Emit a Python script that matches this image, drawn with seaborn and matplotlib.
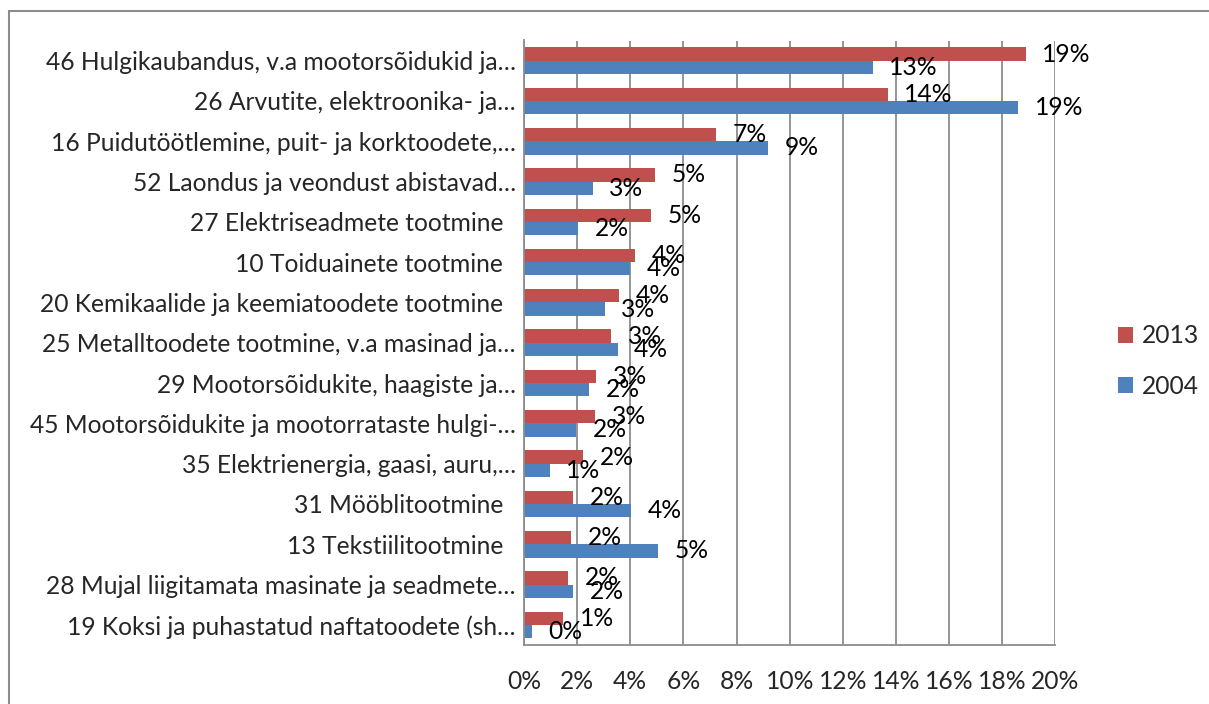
import matplotlib
matplotlib.use('Agg')
import matplotlib.pyplot as plt
from matplotlib.lines import Line2D
from matplotlib.ticker import FuncFormatter, MultipleLocator, FixedLocator
import seaborn as sns
import pandas as pd


categories = ['46 Hulgikaubandus, v.a mootorsõidukid ja…',
              '26 Arvutite, elektroonika- ja…',
              '16 Puidutöötlemine, puit- ja korktoodete,…',
              '52 Laondus ja veondust abistavad…',
              '27 Elektriseadmete tootmine  ',
              '10 Toiduainete tootmine  ',
              '20 Kemikaalide ja keemiatoodete tootmine  ',
              '25 Metalltoodete tootmine, v.a masinad ja…',
              '29 Mootorsõidukite, haagiste ja…',
              '45 Mootorsõidukite ja mootorrataste hulgi-…',
              '35 Elektrienergia, gaasi, auru,…',
              '31 Mööblitootmine  ',
              '13 Tekstiilitootmine  ',
              '28 Mujal liigitamata masinate ja seadmete…',
              '19 Koksi ja puhastatud naftatoodete (sh…']
share_2013 = [18.88, 13.69, 7.24, 4.92, 4.79, 4.18, 3.56, 3.28, 2.71, 2.68, 2.23, 1.84, 1.77, 1.65, 1.46]
share_2004 = [13.12, 18.61, 9.17, 2.58, 2.03, 4.00, 3.03, 3.52, 2.44, 1.97, 0.96, 4.03, 5.05, 1.85, 0.29]
years = ['2013', '2004']
colors = {'2013': '#C0504D', '2004': '#4F81BD'}

df = pd.DataFrame({
    'Tegevusala': categories * 2,
    'Aasta': ['2013'] * len(categories) + ['2004'] * len(categories),
    'Osakaal': share_2013 + share_2004,
})

sns.set_style('white')
plt.rcParams['font.family'] = ['Lato', 'DejaVu Sans']
FS = 17.75
grid_col = '#8C8C8C'

fig = plt.figure(figsize=(12.09, 7.04), dpi=100)
ax = fig.add_axes([524 / 1209, 1 - 645 / 704, (1055.4 - 524) / 1209, (645 - 40.5) / 704])

sns.barplot(data=df, y='Tegevusala', x='Osakaal', hue='Aasta', hue_order=years,
            order=categories, palette=colors, saturation=1, orient='h', width=0.66,
            gap=0, linewidth=0, ax=ax)

ax.set_xlim(0, 20)
ax.set_ylim(len(categories) - 0.5, -0.5)
ax.xaxis.set_major_locator(MultipleLocator(2))
ax.xaxis.set_major_formatter(FuncFormatter(lambda v, p: f'{v:.0f}%'))
ax.grid(axis='x', color=grid_col, linewidth=1.3)
ax.set_axisbelow(True)
ax.set_xlabel('')
ax.set_ylabel('')

for side in ['top', 'right']:
    ax.spines[side].set_visible(False)
for side in ['left', 'bottom']:
    ax.spines[side].set_color(grid_col)
    ax.spines[side].set_linewidth(1.3)

ax.tick_params(axis='x', which='major', length=4, width=1.3, color=grid_col,
               direction='out', pad=14, labelsize=FS)
ax.tick_params(axis='y', which='major', length=0, pad=6, labelsize=FS)
ax.yaxis.set_minor_locator(FixedLocator([i - 0.5 for i in range(len(categories) + 1)]))
ax.tick_params(axis='y', which='minor', length=4, width=1.3, color=grid_col, direction='out')

for cont in ax.containers:
    ax.bar_label(cont, labels=[f'{v:.0f}%' for v in cont.datavalues],
                 padding=12, fontsize=FS, color='black')

handles, labels = ax.get_legend_handles_labels()
ax.legend(handles, labels, loc='center left', bbox_to_anchor=(1096 / 1209, 1 - 361 / 704),
          bbox_transform=fig.transFigure, frameon=False, fontsize=FS,
          handlelength=0.6, handleheight=0.6, handletextpad=0.35, labelspacing=1.1)

# chart frame
x0, y0 = 9 / 1209, 1 - 11 / 704
fig.add_artist(Line2D([x0, x0], [0, y0], color=grid_col, linewidth=1.5, transform=fig.transFigure))
fig.add_artist(Line2D([x0, 1], [y0, y0], color=grid_col, linewidth=1.5, transform=fig.transFigure))

fig.savefig('out.png', dpi=100)
